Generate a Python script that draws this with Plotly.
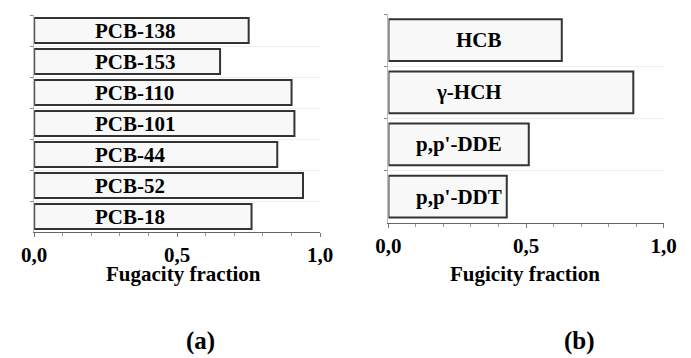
import plotly.graph_objects as go

# ---- data ----
pcb_names = ["PCB-138", "PCB-153", "PCB-110", "PCB-101", "PCB-44", "PCB-52", "PCB-18"]
pcb_values = [0.75, 0.65, 0.90, 0.91, 0.85, 0.94, 0.76]
ocp_names = ["HCB", "γ-HCH", "p,p'-DDE", "p,p'-DDT"]
ocp_values = [0.63, 0.89, 0.51, 0.43]
x_tickvals = [0, 0.5, 1.0]
x_ticktext = ["0,0", "0,5", "1,0"]
title_a = "Fugacity fraction"
title_b = "Fugicity fraction"
panel_labels = ["(a)", "(b)"]

# page has an 8px body margin; figure reaches the window's right/bottom edges
OFF = 8
W, H = 691 - OFF, 358 - OFF
FONT = "Liberation Serif, Times New Roman, serif"
BAR_FILL = "#f8f8f8"
BAR_LINE = "#333333"

def px_x(p):
    return (p - OFF) / W

def px_y(p):
    return (H - (p - OFF)) / H

fig = go.Figure()
fig.add_trace(go.Bar(x=pcb_values, y=pcb_names, orientation="h", width=0.8,
                     marker=dict(color=BAR_FILL, line=dict(color=BAR_LINE, width=2)),
                     xaxis="x", yaxis="y", showlegend=False, hoverinfo="skip"))
fig.add_trace(go.Bar(x=ocp_values, y=ocp_names, orientation="h", width=0.8,
                     marker=dict(color=BAR_FILL, line=dict(color=BAR_LINE, width=2)),
                     xaxis="x2", yaxis="y2", showlegend=False, hoverinfo="skip"))

xcommon = dict(range=[0, 1.0], tickvals=x_tickvals, ticktext=x_ticktext,
               ticks="outside", ticklen=4, tickcolor="#777", tickwidth=1,
               minor=dict(dtick=0.1, ticks="outside", ticklen=3, tickcolor="#999"),
               showline=True, linecolor="#666", linewidth=1, showgrid=False,
               zeroline=False, fixedrange=True,
               tickfont=dict(family=FONT, size=21, color="#000", weight="bold"))
ycommon = dict(type="category", tickson="boundaries", ticks="outside", ticklen=3,
               tickcolor="#888", showticklabels=False, showline=True,
               linecolor="#bbb", linewidth=1, showgrid=True, gridcolor="#eeeeee",
               gridwidth=1, zeroline=False, fixedrange=True)

fig.update_layout(
    width=W, height=H, margin=dict(l=0, r=0, t=0, b=0),
    paper_bgcolor="white", plot_bgcolor="white", bargap=0.2,
    xaxis=dict(domain=[px_x(21.7), px_x(319)], anchor="y", **xcommon),
    yaxis=dict(domain=[px_y(232), px_y(15)], anchor="x",
               categoryorder="array", categoryarray=pcb_names,
               range=[len(pcb_names) - 0.5, -0.5], **ycommon),
    xaxis2=dict(domain=[px_x(390), px_x(676)], anchor="y2", **xcommon),
    yaxis2=dict(domain=[px_y(222.7), px_y(14)], anchor="x2",
                categoryorder="array", categoryarray=ocp_names,
                range=[len(ocp_names) - 0.5, -0.5], **ycommon),
)

annots = []
for name in pcb_names:
    annots.append(dict(x=0.207, y=name, xref="x", yref="y", text=f"<b>{name}</b>",
                       showarrow=False, xanchor="left", yanchor="middle",
                       font=dict(family=FONT, size=21, color="#000")))
for name in ocp_names:
    annots.append(dict(x=0.42, y=name, xref="x2", yref="y2", text=f"<b>{name}</b>",
                       showarrow=False, xanchor="right", yanchor="middle",
                       font=dict(family=FONT, size=21, color="#000")))
annots.append(dict(x=px_x(177), y=px_y(274), xref="paper", yref="paper",
                   text=f"<b>{title_a}</b>", showarrow=False, xanchor="center", yanchor="middle",
                   font=dict(family=FONT, size=21, color="#000")))
annots.append(dict(x=px_x(532), y=px_y(274), xref="paper", yref="paper",
                   text=f"<b>{title_b}</b>", showarrow=False, xanchor="center", yanchor="middle",
                   font=dict(family=FONT, size=21, color="#000")))
annots.append(dict(x=px_x(194.5), y=px_y(341), xref="paper", yref="paper",
                   text=f"<b>{panel_labels[0]}</b>", showarrow=False, xanchor="center", yanchor="middle",
                   font=dict(family=FONT, size=25, color="#000")))
annots.append(dict(x=px_x(588.5), y=px_y(341), xref="paper", yref="paper",
                   text=f"<b>{panel_labels[1]}</b>", showarrow=False, xanchor="center", yanchor="middle",
                   font=dict(family=FONT, size=25, color="#000")))
fig.update_layout(annotations=annots)

fig.write_html("out.html")
